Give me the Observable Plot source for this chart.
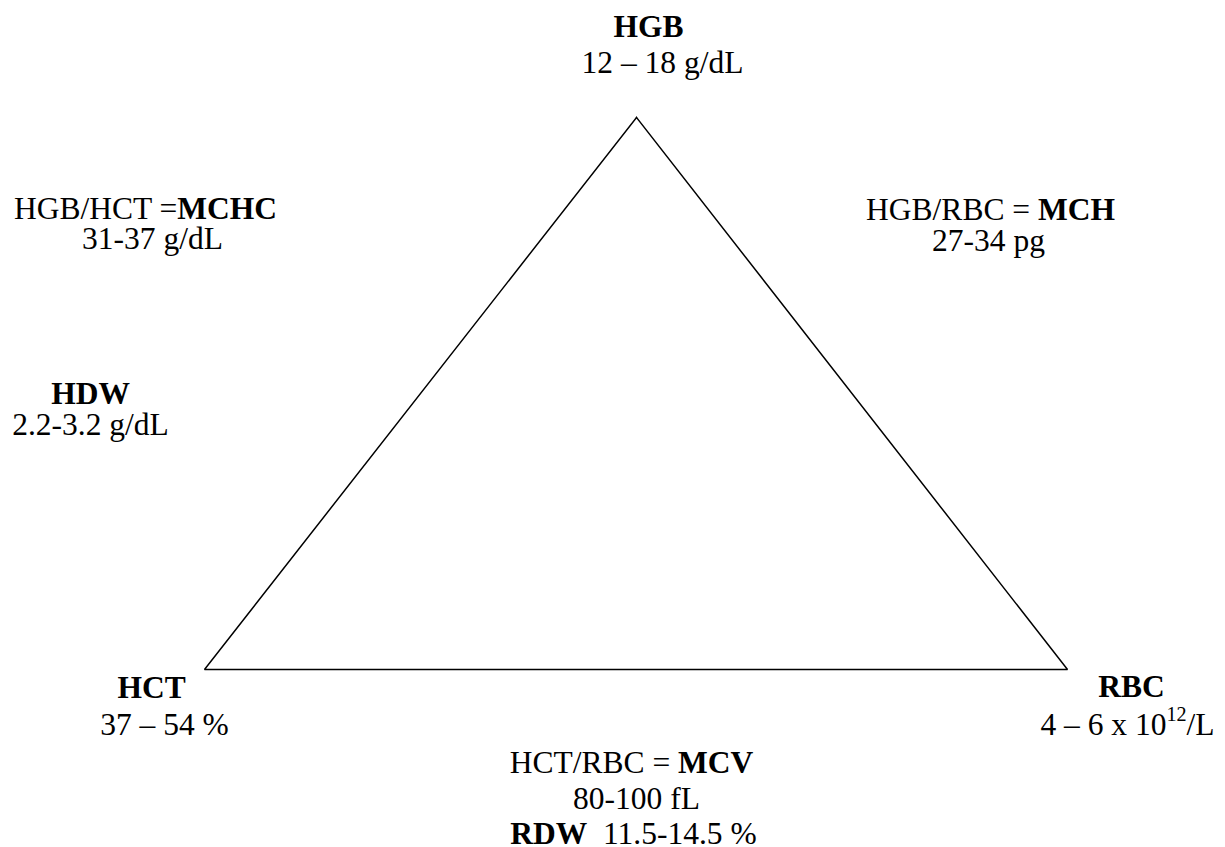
<!DOCTYPE html>
<html>
<head>
<meta charset="utf-8">
<script src="https://cdn.jsdelivr.net/npm/d3@7"></script>
<script src="https://cdn.jsdelivr.net/npm/@observablehq/plot@0.6"></script>
<style>
  html, body { margin: 0; padding: 0; background: #fff; }
  svg { display: block; }
</style>
</head>
<body>
<div id="chart"></div>
<script>
// Triangle vertices (diagram coordinates, y downward)
const vertexNames = ["HGB", "HCT", "RBC"];
const vertexX = [636, 204, 1067];
const vertexY = [117, 669, 669];

// Label texts (**bold**, ^{superscript})
const labelTexts = [
  "**HGB**",
  "12 – 18 g/dL",
  "HGB/HCT =**MCHC**",
  "31-37 g/dL",
  "HGB/RBC = **MCH**",
  "27-34 pg",
  "**HDW**",
  "2.2-3.2 g/dL",
  "**HCT**",
  "37 – 54 %",
  "**RBC**",
  "4 – 6 x 10^{12}/L",
  "HCT/RBC = **MCV**",
  "80-100 fL",
  "**RDW**\u00a0 11.5-14.5 %"
];

// Layout: label centre x and baseline y
const labelX = [648, 662, 145, 152, 990, 988, 90, 90, 151, 164, 1131, 1127, 631, 636, 633];
const labelY = [36, 72, 218, 248, 219, 250, 403, 434, 697, 734, 696, 734, 772, 808, 843];

const vertices = vertexNames.map((n, i) => ({name: n, x: vertexX[i], y: vertexY[i]}));
const ring = [...vertices, vertices[0]];
const labels = labelTexts.map((t, i) => ({t, x: labelX[i], y: labelY[i]}));

const serif = "Liberation Serif";

const plot = Plot.plot({
  width: 1225,
  height: 847,
  margin: 0,
  x: {domain: [0, 1225], range: [0, 1225], axis: null},
  y: {domain: [0, 847], range: [0, 847], axis: null},
  style: {background: "#fff"},
  marks: [
    Plot.line(ring, {x: "x", y: "y", stroke: "#000", strokeWidth: 1.5, strokeLinejoin: "miter", strokeLinecap: "square"}),
    Plot.text(labels, {x: "x", y: "y", text: "t", fontSize: 31.5, fontFamily: serif, fill: "#000", textAnchor: "middle", lineAnchor: "bottom"})
  ]
});

// Convert markup into tspans
d3.select(plot).selectAll("text").each(function() {
  const el = d3.select(this);
  const s = this.textContent;
  if (!/\*\*|\^\{/.test(s)) return;
  this.textContent = "";
  const re = /\*\*(.+?)\*\*|\^\{(.+?)\}|([^*^]+)/g;
  let m, afterSup = false;
  while ((m = re.exec(s))) {
    const ts = el.append("tspan");
    if (m[1] !== undefined) {
      ts.attr("font-weight", "bold").text(m[1]);
    } else if (m[2] !== undefined) {
      ts.attr("font-size", "0.64em").attr("dy", "-0.65em").text(m[2]);
      afterSup = true;
      continue;
    } else {
      ts.text(m[3]);
    }
    if (afterSup) { ts.attr("dy", "0.416em"); afterSup = false; }
  }
});
d3.select(plot).selectAll("text").style("white-space", "pre");

document.getElementById("chart").appendChild(plot);
</script>
</body>
</html>
